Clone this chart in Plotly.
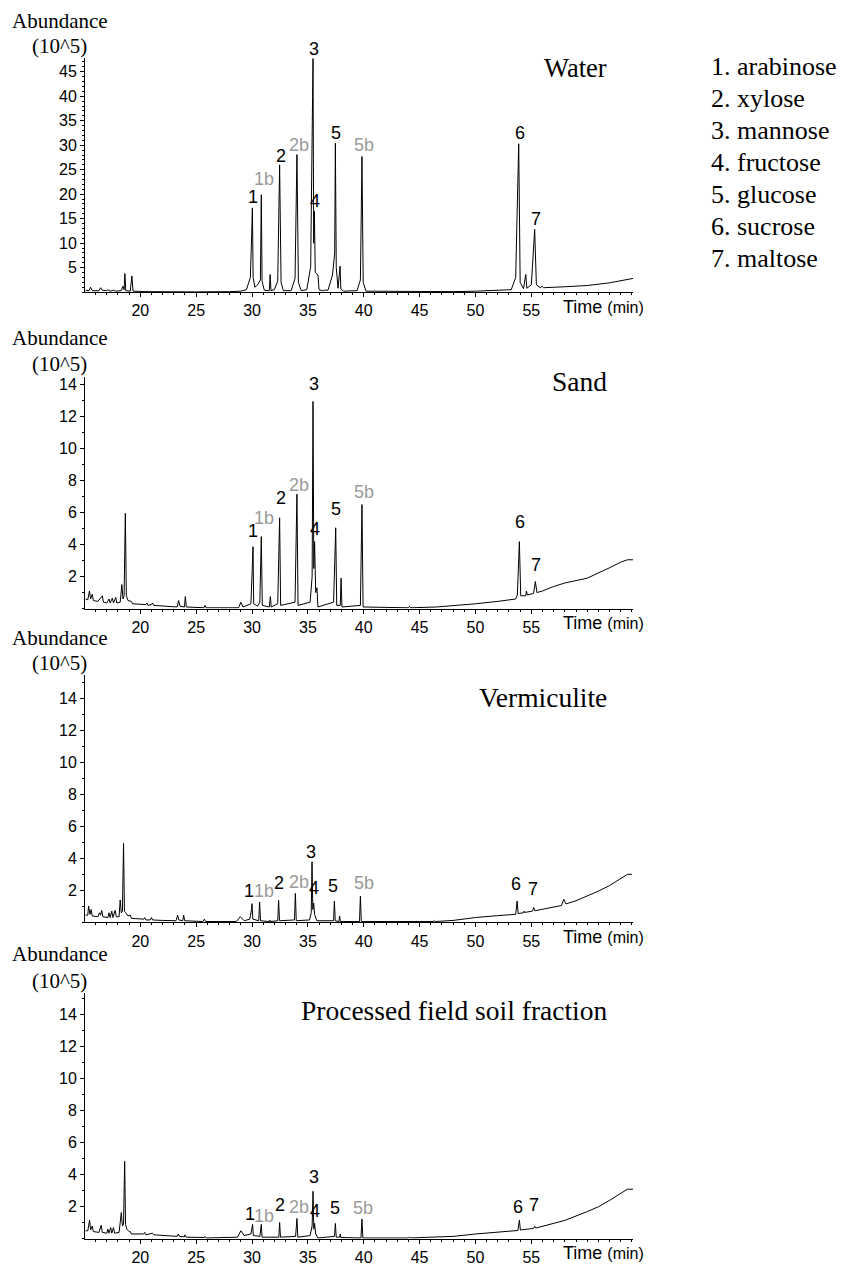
import plotly.graph_objects as go

# ---------------- data ----------------
water_t = [15.1, 15.4, 15.55, 15.7, 16.3, 16.45, 16.6, 17.0, 17.1, 17.3, 17.6, 17.8, 18.3, 18.45, 18.55, 18.62, 18.7,
           19.1, 19.25, 19.35, 20.5, 22, 25, 28, 29.0, 29.5, 29.85, 29.98, 30.03, 30.1, 30.25, 30.5, 30.75, 30.83,
           30.9, 31.1, 31.55, 31.62, 31.7, 32.0, 32.3, 32.47, 32.6, 32.8, 33.5, 33.85, 34.02, 34.15, 34.4, 34.9,
           35.25, 35.42, 35.46, 35.52, 35.58, 35.66, 35.9, 36.0, 36.3, 36.5, 36.8, 37.2, 37.40, 37.46, 37.54, 37.7,
           37.88, 37.95, 38.2, 39.4, 39.7, 39.84, 39.95, 40.2, 45, 48, 50, 52, 53.2, 53.6, 53.87, 54.0, 54.3, 54.5,
           54.6, 55.0, 55.3, 55.45, 55.8, 55.96, 56.1, 58, 60, 62, 63.5, 64.1]
water_ab = [0.4, 0.3, 1.0, 0.3, 0.3, 0.9, 0.4, 0.3, 0.5, 0.2, 0.4, 0.2, 0.3, 1.2, 0.5, 3.8, 0.3,
            0.2, 3.3, 0.2, 0.1, 0.05, 0.05, 0.1, 0.2, 0.5, 3.0, 12.5, 17.2, 3.0, 1.0, 1.5, 2.5, 19.9,
            2.2, 0.4, 0.3, 3.6, 0.3, 0.5, 2.3, 26.0, 2.0, 0.3, 0.3, 2.8, 28.1, 2.0, 0.3, 0.5,
            5.2, 40.0, 47.7, 10.0, 16.5, 4.0, 3.5, 0.5, 0.3, 0.4, 0.4, 3.5, 8.0, 30.4, 5.0, 0.8,
            5.3, 0.6, 0.2, 0.3, 2.5, 27.7, 2.0, 0.2, 0.05, 0.1, 0.2, 0.35, 0.5, 3.0, 30.3, 2.0, 0.7, 3.6,
            0.8, 1.5, 12.8, 1.5, 0.9, 1.2, 0.9, 1.1, 1.35, 1.9, 2.5, 2.8]

sand_t = [15.1, 15.3, 15.45, 15.55, 15.7, 15.8, 16.2, 16.4, 16.6, 16.7, 17.0, 17.2, 17.3, 17.5, 17.6, 17.8, 17.9,
          18.2, 18.35, 18.45, 18.55, 18.66, 18.75, 18.9, 19.2, 19.3, 20.5, 20.6, 20.7, 21.0, 21.1, 21.2, 22, 23.3,
          23.43, 23.55, 23.95, 24.03, 24.12, 25.7, 25.8, 25.9, 28.8, 29.0, 29.2, 29.9, 30.02, 30.09, 30.15, 30.5,
          30.7, 30.83, 30.92, 31.55, 31.64, 31.72, 32.3, 32.47, 32.56, 33.85, 34.02, 34.12, 35.2, 35.38, 35.46,
          35.53, 35.6, 35.7, 35.81, 35.9, 37.3, 37.49, 37.58, 37.9, 37.97, 38.05, 39.7, 39.84, 39.94, 44.0, 44.1,
          44.2, 46.5, 47.5, 50, 52, 53.6, 53.75, 53.93, 54.05, 54.5, 54.56, 54.65, 55.2, 55.36, 55.5, 56, 57, 58,
          60, 61, 62, 63, 63.6, 64.1]
sand_ab = [0.6, 0.55, 1.1, 0.6, 0.9, 0.5, 0.45, 0.6, 0.8, 0.4, 0.35, 0.6, 0.35, 0.65, 0.35, 0.7, 0.35,
           0.4, 1.5, 0.6, 0.8, 5.95, 0.8, 0.5, 0.45, 0.3, 0.25, 0.35, 0.2, 0.25, 0.35, 0.2, 0.15, 0.1,
           0.5, 0.15, 0.1, 0.75, 0.1, 0.05, 0.2, 0.05, 0.05, 0.4, 0.1, 0.3, 2.5, 3.87, 0.3, 0.15,
           0.4, 4.5, 0.2, 0.1, 0.75, 0.1, 0.3, 5.67, 0.2, 0.4, 7.15, 0.2, 0.4, 2.0, 12.94,
           2.5, 4.18, 1.0, 1.3, 0.1, 0.4, 5.05, 0.2, 0.2, 1.9, 0.1, 0.2, 6.5, 0.1, 0.05, 0.15,
           0.05, 0.1, 0.15, 0.3, 0.45, 0.6, 0.85, 4.18, 0.8, 0.8, 1.1, 0.85, 0.95, 1.69, 1.0, 1.1, 1.38, 1.6,
           1.9, 2.2, 2.55, 2.9, 3.05, 3.05]

verm_t = [15.1, 15.3, 15.37, 15.5, 15.6, 15.7, 16.2, 16.35, 16.45, 16.55, 16.65, 17.1, 17.2, 17.3, 17.45, 17.55,
          17.75, 17.85, 18.1, 18.2, 18.3, 18.4, 18.5, 18.58, 18.7, 18.9, 19.1, 19.2, 20.3, 20.4, 20.5, 20.9, 21.0,
          21.1, 22, 23.2, 23.34, 23.45, 23.8, 23.88, 23.97, 25.6, 25.73, 25.85, 28.6, 28.95, 29.3, 29.8, 29.95,
          30.0, 30.07, 30.6, 30.68, 30.76, 31.55, 31.6, 31.65, 32.3, 32.38, 32.46, 33.8, 33.88, 33.96, 35.15,
          35.3, 35.37, 35.44, 35.52, 35.6, 35.8, 37.3, 37.37, 37.45, 37.78, 37.84, 37.9, 39.62, 39.7, 39.78, 44,
          46.2, 46.3, 46.4, 48, 50, 52, 53.6, 53.73, 53.82, 54.3, 54.35, 54.4, 55.1, 55.22, 55.32, 56, 57, 57.7,
          57.9, 58.1, 59, 60, 61, 62, 63, 63.6, 64.0]
verm_ab = [0.45, 0.45, 1.02, 0.5, 0.8, 0.4, 0.35, 0.6, 0.45, 0.75, 0.35, 0.3, 0.6, 0.3, 0.7, 0.3,
           0.75, 0.35, 0.35, 1.4, 0.6, 0.7, 4.93, 0.7, 0.6, 0.4, 0.45, 0.25, 0.2, 0.3, 0.15, 0.15, 0.3,
           0.15, 0.12, 0.1, 0.45, 0.15, 0.1, 0.45, 0.1, 0.05, 0.2, 0.05, 0.05, 0.35, 0.1, 0.2, 0.8,
           1.17, 0.2, 0.1, 1.27, 0.1, 0.05, 0.15, 0.05, 0.1, 1.38, 0.1, 0.15, 1.81, 0.1, 0.15,
           0.6, 3.79, 0.8, 1.2, 0.5, 0.1, 0.1, 1.33, 0.1, 0.05, 0.4, 0.05, 0.05, 1.64, 0.05, 0.02,
           0.05, 0.1, 0.05, 0.12, 0.3, 0.42, 0.5, 1.33, 0.55, 0.6, 0.7, 0.62, 0.7, 0.92, 0.72, 0.82, 0.95, 1.05,
           1.44, 1.15, 1.35, 1.64, 1.95, 2.3, 2.75, 3.0, 3.0]

soil_t = [15.1, 15.3, 15.46, 15.55, 15.7, 15.8, 16.3, 16.4, 16.5, 16.6, 17.0, 17.1, 17.2, 17.35, 17.45, 17.6,
          17.7, 18.1, 18.3, 18.4, 18.5, 18.6, 18.68, 18.8, 19.0, 19.1, 19.2, 20.3, 20.4, 20.5, 21.0, 21.1, 21.2,
          22, 23.3, 23.4, 23.5, 23.95, 24.0, 24.1, 25.7, 25.8, 25.9, 28.7, 29.0, 29.3, 29.9, 30.05, 30.12, 30.7,
          30.83, 30.9, 32.4, 32.47, 32.55, 33.9, 34.02, 34.1, 35.2, 35.38, 35.46, 35.53, 35.6, 35.7, 35.9, 37.38,
          37.46, 37.54, 37.85, 37.9, 37.95, 39.75, 39.84, 39.92, 44, 44.1, 44.2, 46, 48, 50, 52, 53.8, 53.93,
          54.02, 55.2, 55.3, 55.4, 57, 58, 60, 61, 62, 63, 63.6, 64.1]
soil_ab = [0.5, 0.5, 1.17, 0.55, 0.8, 0.45, 0.4, 0.6, 0.85, 0.4, 0.35, 0.6, 0.35, 0.7, 0.35, 0.7,
           0.35, 0.4, 1.64, 0.8, 0.9, 4.84, 0.9, 0.6, 0.45, 0.45, 0.3, 0.3, 0.4, 0.25, 0.3, 0.35, 0.25,
           0.2, 0.15, 0.3, 0.15, 0.12, 0.25, 0.1, 0.08, 0.15, 0.05, 0.1, 0.5, 0.2, 0.3, 0.9, 0.2, 0.15,
           0.9, 0.1, 0.1, 1.02, 0.1, 0.15, 1.27, 0.1, 0.2, 0.8, 2.97, 0.6, 0.96, 0.3, 0.05, 0.15,
           0.96, 0.1, 0.1, 0.3, 0.08, 0.05, 1.23, 0.05, 0.05, 0.12, 0.05, 0.1, 0.15, 0.3, 0.42, 0.52, 1.17,
           0.55, 0.65, 0.78, 0.67, 0.95, 1.15, 1.7, 2.0, 2.4, 2.85, 3.1, 3.1]

peak_labels = ["1", "1b", "2", "2b", "3", "4", "5", "5b", "6", "7"]
water_label_t = [30.05, 31.04, 32.62, 34.24, 35.52, 35.6, 37.55, 39.99, 53.96, 55.42]
water_label_ab = [19.5, 23.2, 27.8, 30.1, 49.6, 18.6, 32.5, 30.0, 32.6, 15.0]
sand_label_t = [30.05, 31.1, 32.62, 34.24, 35.54, 35.6, 37.55, 39.99, 53.96, 55.42]
sand_label_ab = [4.85, 5.67, 6.92, 7.75, 14.04, 5.0, 6.2, 7.3, 5.4, 2.7]
verm_label_t = [29.7, 31.04, 32.38, 34.17, 35.31, 35.52, 37.25, 39.99, 53.66, 55.12]
verm_label_ab = [1.96, 1.96, 2.48, 2.54, 4.41, 2.17, 2.27, 2.48, 2.37, 2.06]
soil_label_t = [29.85, 31.04, 32.47, 34.17, 35.54, 35.6, 37.4, 39.93, 53.81, 55.27]
soil_label_ab = [1.58, 1.44, 2.1, 2.0, 3.87, 1.73, 1.9, 1.94, 2.0, 2.1]

panel_titles = ["Water", "Sand", "Vermiculite", "Processed field soil fraction"]
water_yticks = [5, 10, 15, 20, 25, 30, 35, 40, 45]
other_yticks = [2, 4, 6, 8, 10, 12, 14]
x_ticks = [20, 25, 30, 35, 40, 45, 50, 55]
legend_items = ["1. arabinose", "2. xylose", "3. mannose", "4. fructose",
                "5. glucose", "6. sucrose", "7. maltose"]

# ---------------- layout geometry ----------------
W, H = 846, 1266
SERIF = "Liberation Serif, Times New Roman, serif"
SANS = "Liberation Sans, Arial, sans-serif"
GREY = "#9a9a9a"

panels = [
    dict(t=water_t, a=water_ab, lt=water_label_t, la=water_label_ab, yr=[0, 47.8],
         top=58.3, bot=293.3, yt=water_yticks, ab_base=28.3, tsize=26.5),
    dict(t=sand_t, a=sand_ab, lt=sand_label_t, la=sand_label_ab, yr=[0, 14.5],
         top=378, bot=611, yt=other_yticks, ab_base=346.5, tsize=27.5),
    dict(t=verm_t, a=verm_ab, lt=verm_label_t, la=verm_label_ab, yr=[0, 15.44],
         top=678, bot=926, yt=other_yticks, ab_base=647.5, tsize=27.5),
    dict(t=soil_t, a=soil_ab, lt=soil_label_t, la=soil_label_ab, yr=[0, 15.38],
         top=996.7, bot=1243.7, yt=other_yticks, ab_base=965, tsize=27.5),
]
title_base = [77, 392, 710, 1024.3]


def py(p):
    return 1 - p / H


fig = go.Figure()
annotations = []
layout_axes = {}
X0, X1 = 85 / W, 633 / W
XR = [15.05, 64.1]

for i, p in enumerate(panels):
    n = "" if i == 0 else str(i + 1)
    xa, ya = "x" + n, "y" + n
    fig.add_trace(go.Scatter(x=p["t"], y=p["a"], mode="lines", xaxis=xa, yaxis=ya,
                             line=dict(color="black", width=1), showlegend=False,
                             hoverinfo="x+y"))
    layout_axes["xaxis" + n] = dict(
        domain=[X0, X1], anchor=ya, range=XR, tickvals=x_ticks,
        ticks="outside", ticklen=4, tickcolor="black", showline=True, linecolor="black",
        linewidth=1, showgrid=False, zeroline=False,
        tickfont=dict(family=SANS, size=16, color="black"),
        minor=dict(dtick=1, ticks="outside", ticklen=2, tickcolor="black", showgrid=False))
    d0, d1 = py(p["bot"]), py(p["top"])
    layout_axes["yaxis" + n] = dict(
        domain=[d0, d1], anchor=xa, range=p["yr"], tickvals=p["yt"],
        ticks="outside", ticklen=4, tickcolor="black", showline=True, linecolor="black",
        linewidth=1, showgrid=False, zeroline=False,
        tickfont=dict(family=SANS, size=16, color="black"),
        minor=dict(dtick=1, ticks="outside", ticklen=2, tickcolor="black", showgrid=False))

    # peak labels (placed in paper space so labels above the axis top stay visible)
    r0, r1 = p["yr"]
    for lab, lx, ly in zip(peak_labels, p["lt"], p["la"]):
        annotations.append(dict(x=X0 + (lx - XR[0]) / (XR[1] - XR[0]) * (X1 - X0),
                                y=d0 + (ly - r0) / (r1 - r0) * (d1 - d0),
                                xref="paper", yref="paper", text=lab, showarrow=False,
                                xanchor="center", yanchor="middle",
                                font=dict(family=SANS, size=18,
                                          color=GREY if "b" in lab else "black")))
    # panel title
    annotations.append(dict(x=609 / W, y=py(title_base[i] - 0.34 * p["tsize"]), xref="paper",
                            yref="paper", text=panel_titles[i], showarrow=False,
                            xanchor="right", yanchor="middle",
                            font=dict(family=SERIF, size=p["tsize"], color="black")))
    # y label
    annotations.append(dict(x=10 / W, y=py(p["ab_base"] - 7.1), xref="paper", yref="paper",
                            text="Abundance", showarrow=False, xanchor="left", yanchor="middle",
                            font=dict(family=SERIF, size=21, color="black")))
    annotations.append(dict(x=30 / W, y=py(p["top"] - 5 - 7.1), xref="paper", yref="paper",
                            text="(10^5)", showarrow=False, xanchor="left", yanchor="middle",
                            font=dict(family=SERIF, size=21, color="black")))
    # x label
    annotations.append(dict(x=561 / W, y=py(p["bot"] + 14.5), xref="paper", yref="paper",
                            text="Time <span style='font-size:16px'>(min)</span>",
                            showarrow=False, xanchor="left", yanchor="middle",
                            font=dict(family=SANS, size=18, color="black")))

# compound key
for k, item in enumerate(legend_items):
    annotations.append(dict(x=709 / W, y=py(66.6 + 32.2 * k), xref="paper", yref="paper",
                            text=item, showarrow=False, xanchor="left", yanchor="middle",
                            font=dict(family=SERIF, size=26, color="black")))

fig.update_layout(width=W, height=H, margin=dict(l=0, r=0, t=0, b=0),
                  paper_bgcolor="white", plot_bgcolor="white",
                  annotations=annotations, showlegend=False, **layout_axes)

fig.write_html("out.html", config={"displayModeBar": False},
               post_script="document.body.style.margin='0';")
